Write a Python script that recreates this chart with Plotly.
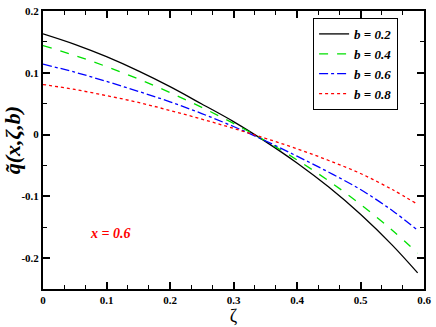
import plotly.graph_objects as go

zeta = [0, 0.05, 0.1, 0.15, 0.2, 0.25, 0.3, 0.35, 0.4, 0.45, 0.5, 0.55, 0.59]
q_b02 = [0.163, 0.146, 0.126, 0.103, 0.0775, 0.0495, 0.021, -0.011, -0.046, -0.085, -0.129, -0.179, -0.224]
q_b04 = [0.144, 0.128, 0.110, 0.090, 0.068, 0.044, 0.018, -0.010, -0.041, -0.075, -0.113, -0.155, -0.192]
q_b06 = [0.114, 0.101, 0.086, 0.070, 0.053, 0.034, 0.013, -0.010, -0.035, -0.061, -0.089, -0.123, -0.155]
q_b08 = [0.081, 0.073, 0.063, 0.052, 0.039, 0.025, 0.010, -0.006, -0.023, -0.042, -0.063, -0.089, -0.113]

series_names = ["b = 0.2", "b = 0.4", "b = 0.6", "b = 0.8"]
series_vals = [q_b02, q_b04, q_b06, q_b08]
colors = ["#000000", "#00e000", "#0000ff", "#ff0000"]
dashes = ["solid", "dash", "dashdot", "dot"]

x_ticks = [0, 0.1, 0.2, 0.3, 0.4, 0.5, 0.6]
x_ticklabels = ["0", "0.1", "0.2", "0.3", "0.4", "0.5", "0.6"]
y_ticks = [-0.2, -0.1, 0, 0.1, 0.2]
y_ticklabels = ["-0.2", "-0.1", "0", "0.1", "0.2"]

fig = go.Figure()
for name, vals, c, d in zip(series_names, series_vals, colors, dashes):
    fig.add_trace(go.Scatter(
        x=zeta, y=vals, mode="lines", name=f"<b><i>{name}</i></b>",
        line=dict(color=c, dash=d, width=1.3, shape="spline"),
    ))

serif = "Liberation Serif, Times New Roman, serif"
axis_common = dict(
    showgrid=False, zeroline=False, showline=True, linecolor="black", linewidth=2,
    mirror="ticks", ticks="inside", tickcolor="black", tickwidth=1.5,
    tickfont=dict(family=serif, size=11, color="black", weight="bold"),
)
fig.update_xaxes(
    range=[0, 0.6], tickvals=x_ticks, ticktext=[f"<b>{t}</b>" for t in x_ticklabels], ticklen=7,
    minor=dict(dtick=0.1 / 3, ticks="inside", ticklen=4, tickcolor="black", tickwidth=1),
    title=dict(text="ζ", font=dict(family=serif, size=18, color="black"), standoff=3),
    **axis_common,
)
fig.update_yaxes(
    range=[-0.25, 0.2], tickvals=y_ticks, ticktext=[f"<b>{t}</b>" for t in y_ticklabels], ticklen=7,
    minor=dict(dtick=0.05, ticks="inside", ticklen=4, tickcolor="black", tickwidth=1),
    **axis_common,
)

fig.add_annotation(
    x=-0.08, y=0.533, xref="paper", yref="paper", showarrow=False, textangle=-90,
    xanchor="center", yanchor="middle",
    text="<b><i>q̃(x,ζ,b)</i></b>", font=dict(family=serif, size=22, color="black"),
)
fig.add_annotation(
    x=0.106, y=-0.16, xref="x", yref="y", showarrow=False,
    text="<b><i>x = 0.6</i></b>", font=dict(family=serif, size=14, color="#ff0000"),
)

fig.update_layout(
    width=436, height=327,
    margin=dict(l=43, r=8, t=5, b=37),
    plot_bgcolor="white", paper_bgcolor="white",
    showlegend=True,
    legend=dict(
        x=0.932, y=0.975, xanchor="right", yanchor="top",
        bgcolor="white", bordercolor="black", borderwidth=1,
        font=dict(family=serif, size=13, color="black"),
        itemwidth=30, tracegroupgap=0,
    ),
)

fig.write_html(
    "out.html",
    config={"displayModeBar": False},
    post_script="document.body.style.margin='0';document.body.style.overflow='hidden';",
)
